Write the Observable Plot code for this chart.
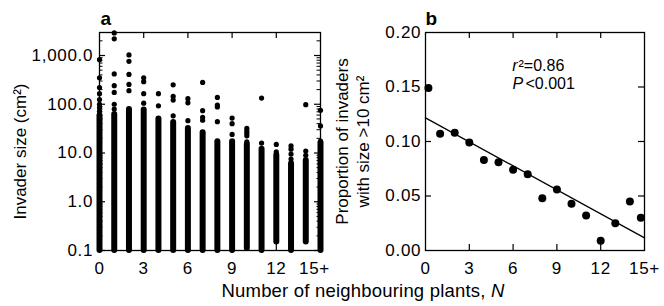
<!DOCTYPE html>
<html>
<head>
<meta charset="utf-8">
<script src="https://cdn.jsdelivr.net/npm/d3@7"></script>
<script src="https://cdn.jsdelivr.net/npm/@observablehq/plot@0.6"></script>
<style>
  html, body { margin: 0; padding: 0; background: #fff; }
  #wrap { position: relative; width: 664px; height: 306px; overflow: hidden; background: #fff;
          font-family: "Liberation Sans", Arial, Helvetica, sans-serif; color: #000; }
  #wrap svg { position: absolute; top: 0; }
  #xtitle { position: absolute; top: 281px; left: 363px; transform: translateX(-50%);
            white-space: nowrap; font-size: 18.5px; line-height: 20px; letter-spacing: 0.2px; }
  #wrap svg g[aria-label$="tick label"] { letter-spacing: 0.7px; }
  #wrap svg g[aria-label="annotation"] { letter-spacing: 1.3px; }
</style>
</head>
<body>
<div id="wrap"><div id="xtitle">Number of neighbouring plants, <i>N</i></div></div>
<script>
// ---------- Panel a: invader size vs number of neighbouring plants ----------
const neighbours = [0, 1, 2, 3, 4, 5, 6, 7, 8, 9, 10, 11, 12, 13, 14, 15];
// continuous (overlapping) band of invaders in each column: lowest and highest size (cm2)
const denseLow  = [0.1, 0.1, 0.1, 0.1, 0.1, 0.1, 0.1, 0.1, 0.1, 0.1, 0.11, 0.1, 0.15, 0.1, 0.15, 0.1];
const denseHigh = [58, 62, 78, 76, 50, 42, 32, 26, 17, 17, 15, 12, 9, 6, 7, 16];
// separate, readable invaders above the band
const outlierN = [
  0, 0, 0, 0, 0, 0, 0, 0,
  1, 1, 1, 1, 1, 1, 1,
  2, 2, 2, 2, 2,
  3, 3, 3, 3,
  4, 4,
  5, 5, 5, 5,
  6, 6, 6,
  7, 7, 7, 7,
  8, 8, 8, 8,
  9, 9, 9,
  10, 10, 10, 10, 10,
  11, 11,
  12, 12,
  13, 13, 13, 13,
  14, 14, 14,
  15, 15, 15
];
const outlierSize = [
  820, 350, 220, 165, 125, 100, 85, 72,
  2900, 2200, 420, 240, 175, 100, 80,
  1030, 760, 410, 255, 190,
  350, 290, 165, 105,
  165, 93,
  250, 145, 122, 58,
  130, 107, 46,
  280, 74, 54, 47,
  138, 96, 88, 44,
  52, 40, 24,
  32, 28, 25, 22.5, 17,
  134, 16,
  15, 10.5,
  14, 12, 9.5, 7.5,
  98, 11, 9,
  75, 36, 17.5
];

// ---------- Panel b: proportion of invaders with size > 10 cm2 ----------
const propN     = [0.2, 1, 2, 3, 4, 5, 6, 7, 8, 9, 10, 11, 12, 13, 14, 14.75];
const propValue = [0.149, 0.107, 0.108, 0.099, 0.083, 0.081, 0.074, 0.070, 0.048, 0.056, 0.043, 0.032, 0.009, 0.025, 0.045, 0.030];
const fitN      = [0, 15];
const fitValue  = [0.1217, 0.0116];

// ---------- ticks ----------
const xTickValues = [0, 3, 6, 9, 12, 15];
const xTickLabels = ["0", "3", "6", "9", "12", "15+"];
const xInnerTicks = [3, 6, 9, 12];
const yTicksA = [0.1, 1, 10, 100, 1000];
const yTickLabelsA = ["0.1", "1.0", "10.0", "100.0", "1,000.0"];
const yMinorMultipliers = [2, 3, 4, 5, 6, 7, 8, 9];
const yMinorDecades = [0.1, 1, 10, 100, 1000];
const yTicksB = [0, 0.05, 0.1, 0.15, 0.2];
const yTickLabelsB = ["0.00", "0.05", "0.10", "0.15", "0.20"];
const yInnerTicksB = [0.05, 0.1, 0.15];

// ---------- build tables ----------
const dense = neighbours.map((n, i) => ({n, lo: denseLow[i], hi: denseHigh[i]}));
const outliers = outlierN.map((n, i) => ({n, size: outlierSize[i]}));
const props = propN.map((n, i) => ({n, p: propValue[i]}));
const fit = fitN.map((n, i) => ({n, p: fitValue[i]}));
const yMinorA = yMinorDecades.flatMap(d => yMinorMultipliers.map(m => d * m)).filter(v => v < 2965);

const fmtX = d => xTickLabels[xTickValues.indexOf(d)];
const fmtYA = d => yTickLabelsA[yTicksA.indexOf(d)];
const fmtYB = d => yTickLabelsB[yTicksB.findIndex(v => Math.abs(v - d) < 1e-9)];

const W = 332, H = 306, MT = 32, MB = 56;
const FH = H - MT - MB; // frame height 218
const baseStyle = {fontFamily: "'Liberation Sans', Arial, Helvetica, sans-serif", fontSize: "17px",
                   background: "transparent", color: "black", overflow: "visible"};

// Panel a
const aML = 99, aMR = 12, aFW = W - aML - aMR;
const plotA = Plot.plot({
  width: W, height: H, marginLeft: aML, marginRight: aMR, marginTop: MT, marginBottom: MB,
  style: baseStyle,
  x: {domain: [0, 15], axis: null},
  y: {type: "log", domain: [0.1, 2965], axis: null},
  marks: [
    Plot.tickX(xInnerTicks, {x: d => d, insetBottom: FH - 6, stroke: "black", strokeWidth: 1.2}),
    Plot.tickX(xInnerTicks, {x: d => d, insetTop: FH - 6, stroke: "black", strokeWidth: 1.2}),
    Plot.tickY(yTicksA, {y: d => d, insetRight: aFW - 6, stroke: "black", strokeWidth: 1.2}),
    Plot.tickY(yTicksA, {y: d => d, insetLeft: aFW - 6, stroke: "black", strokeWidth: 1.2}),
    Plot.tickY(yMinorA, {y: d => d, insetRight: aFW - 3.5, stroke: "black", strokeWidth: 1}),
    Plot.tickY(yMinorA, {y: d => d, insetLeft: aFW - 3.5, stroke: "black", strokeWidth: 1}),
    Plot.ruleX(dense, {x: "n", y1: "lo", y2: "hi", stroke: "black", strokeWidth: 6, strokeLinecap: "round"}),
    Plot.dot(outliers, {x: "n", y: "size", r: 2.6, fill: "black", stroke: "none"}),
    Plot.frame({stroke: "black", strokeWidth: 1.3}),
    Plot.axisX({ticks: xTickValues.slice(0, 5), anchor: "bottom", tickSize: 0, tickPadding: 11, tickFormat: fmtX, label: null}),
    Plot.axisX({ticks: [15], anchor: "bottom", tickSize: 0, tickPadding: 11, tickFormat: fmtX, label: null, dx: -6}),
    Plot.axisY({ticks: yTicksA, anchor: "left", tickSize: 0, tickPadding: 6.3, tickFormat: fmtYA, label: null}),
    Plot.text(["Invader size (cm²)"], {frameAnchor: "left", rotate: -90, dx: -79, dy: 10, textAnchor: "middle", lineAnchor: "middle"}),
    Plot.text(["a"], {frameAnchor: "top-left", dx: 1, dy: -8, textAnchor: "start", lineAnchor: "bottom", fontWeight: "bold", fontSize: 19})
  ]
});
plotA.style.left = "0px";

// Panel b
const bML = 93, bMR = 20, bFW = W - bML - bMR;
const plotB = Plot.plot({
  width: W, height: H, marginLeft: bML, marginRight: bMR, marginTop: MT, marginBottom: MB,
  style: baseStyle,
  x: {domain: [0, 15], axis: null},
  y: {domain: [0, 0.2], axis: null},
  marks: [
    Plot.tickX(xInnerTicks, {x: d => d, insetBottom: FH - 6, stroke: "black", strokeWidth: 1.2}),
    Plot.tickX(xInnerTicks, {x: d => d, insetTop: FH - 6, stroke: "black", strokeWidth: 1.2}),
    Plot.tickY(yInnerTicksB, {y: d => d, insetRight: bFW - 6, stroke: "black", strokeWidth: 1.2}),
    Plot.tickY(yInnerTicksB, {y: d => d, insetLeft: bFW - 6, stroke: "black", strokeWidth: 1.2}),
    Plot.line(fit, {x: "n", y: "p", stroke: "black", strokeWidth: 1.3}),
    Plot.dot(props, {x: "n", y: "p", r: 4, fill: "black", stroke: "none"}),
    Plot.frame({stroke: "black", strokeWidth: 1.3}),
    Plot.axisX({ticks: xTickValues, anchor: "bottom", tickSize: 0, tickPadding: 11, tickFormat: fmtX, label: null}),
    Plot.axisY({ticks: yTicksB, anchor: "left", tickSize: 0, tickPadding: 4.3, tickFormat: fmtYB, label: null}),
    Plot.text(["Proportion of invaders\nwith size >10 cm²"], {frameAnchor: "left", rotate: -90, dx: -73.5, dy: 0, textAnchor: "middle", lineAnchor: "middle", lineHeight: 1.24}),
    Plot.text(["r"], {frameAnchor: "top-left", dx: 86.7, dy: 38.3, textAnchor: "start", lineAnchor: "bottom", fontStyle: "italic", fontSize: 16, ariaLabel: "annotation"}),
    Plot.text(["²=0.86"], {frameAnchor: "top-left", dx: 93, dy: 38.3, textAnchor: "start", lineAnchor: "bottom", fontSize: 16, ariaLabel: "annotation"}),
    Plot.text(["P"], {frameAnchor: "top-left", dx: 87, dy: 56.5, textAnchor: "start", lineAnchor: "bottom", fontStyle: "italic", fontSize: 16, ariaLabel: "annotation"}),
    Plot.text(["<0.001"], {frameAnchor: "top-left", dx: 100, dy: 56.5, textAnchor: "start", lineAnchor: "bottom", fontSize: 16, ariaLabel: "annotation"}),
    Plot.text(["b"], {frameAnchor: "top-left", dx: 0, dy: -8, textAnchor: "start", lineAnchor: "bottom", fontWeight: "bold", fontSize: 19})
  ]
});
plotB.style.left = "332px";

const wrap = document.getElementById("wrap");
wrap.appendChild(plotA);
wrap.appendChild(plotB);
</script>
</body>
</html>
